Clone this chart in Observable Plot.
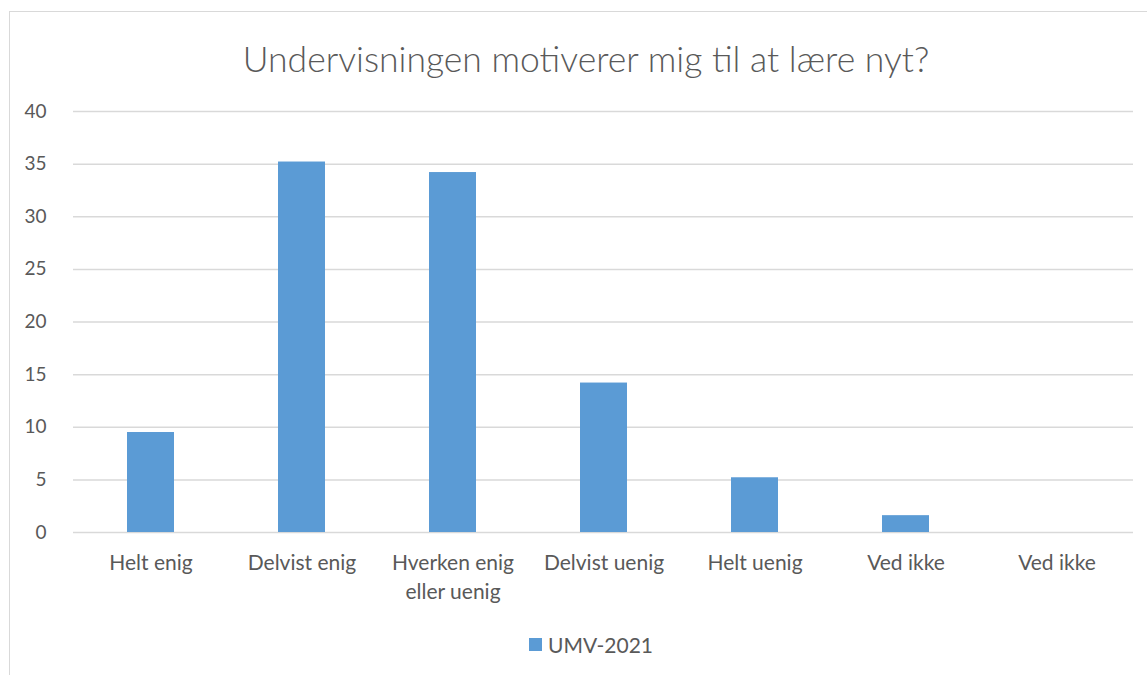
<!DOCTYPE html>
<html>
<head>
<meta charset="utf-8">
<script src="https://cdn.jsdelivr.net/npm/d3@7"></script>
<script src="https://cdn.jsdelivr.net/npm/@observablehq/plot@0.6"></script>
<style>
  html, body { margin: 0; padding: 0; background: #fff; }
  #wrap { position: relative; width: 1147px; height: 675px; overflow: hidden; font-family: Lato, "Open Sans", sans-serif; }
  #border { position: absolute; left: 9px; top: 11px; width: 1150px; height: 680px; border: 1.5px solid #d9d9d9; box-sizing: border-box; }
  #title { position: absolute; left: 0; width: 1172px; top: 37px; text-align: center; font-size: 35.5px; font-weight: 300; color: #595959; white-space: nowrap; }
  #legend { position: absolute; top: 632px; left: 529px; font-size: 21px; color: #595959; display: flex; align-items: center; }
  #legend .sw { width: 13px; height: 13px; background: #5b9bd5; margin-right: 6px; }
  #chart { position: absolute; left: 0; top: 0; }
</style>
</head>
<body>
<div id="wrap">
  <div id="border"></div>
  <div id="chart"></div>
  <div id="title">Undervisningen motiverer mig til at lære nyt?</div>
  <div id="legend"><div class="sw"></div><span>UMV-2021</span></div>
</div>
<script>
const categories = ["Helt enig", "Delvist enig", "Hverken enig\neller uenig", "Delvist uenig", "Helt uenig", "Ved ikke", "Ved ikke"];
const values = [9.5, 35.2, 34.2, 14.2, 5.2, 1.6, 0];
const yTicks = [0, 5, 10, 15, 20, 25, 30, 35, 40];

const keys = categories.map((c, i) => i);
const data = keys.map(i => ({key: i, value: values[i]}));

const chart = Plot.plot({
  width: 1147,
  height: 675,
  marginTop: 111,
  marginBottom: 143,
  marginLeft: 73,
  marginRight: 14,
  style: {fontFamily: "Lato, 'Open Sans', sans-serif", color: "#595959", background: "transparent"},
  x: {domain: keys, paddingInner: 0.69, paddingOuter: 0.345, align: 0.5},
  y: {domain: [0, 40]},
  marks: [
    Plot.ruleY(yTicks, {stroke: "#d9d9d9", strokeWidth: 1.5}),
    Plot.barY(data, {x: "key", y: "value", fill: "#5b9bd5"}),
    Plot.axisY({ticks: yTicks, tickSize: 0, tickPadding: 27, fontSize: 19, fill: "#595959", label: null}),
    Plot.axisX({tickSize: 0, tickPadding: 17, fontSize: 21, fill: "#595959", label: null, lineHeight: 1.38, tickFormat: i => categories[i]})
  ]
});
document.getElementById("chart").appendChild(chart);
</script>
</body>
</html>
